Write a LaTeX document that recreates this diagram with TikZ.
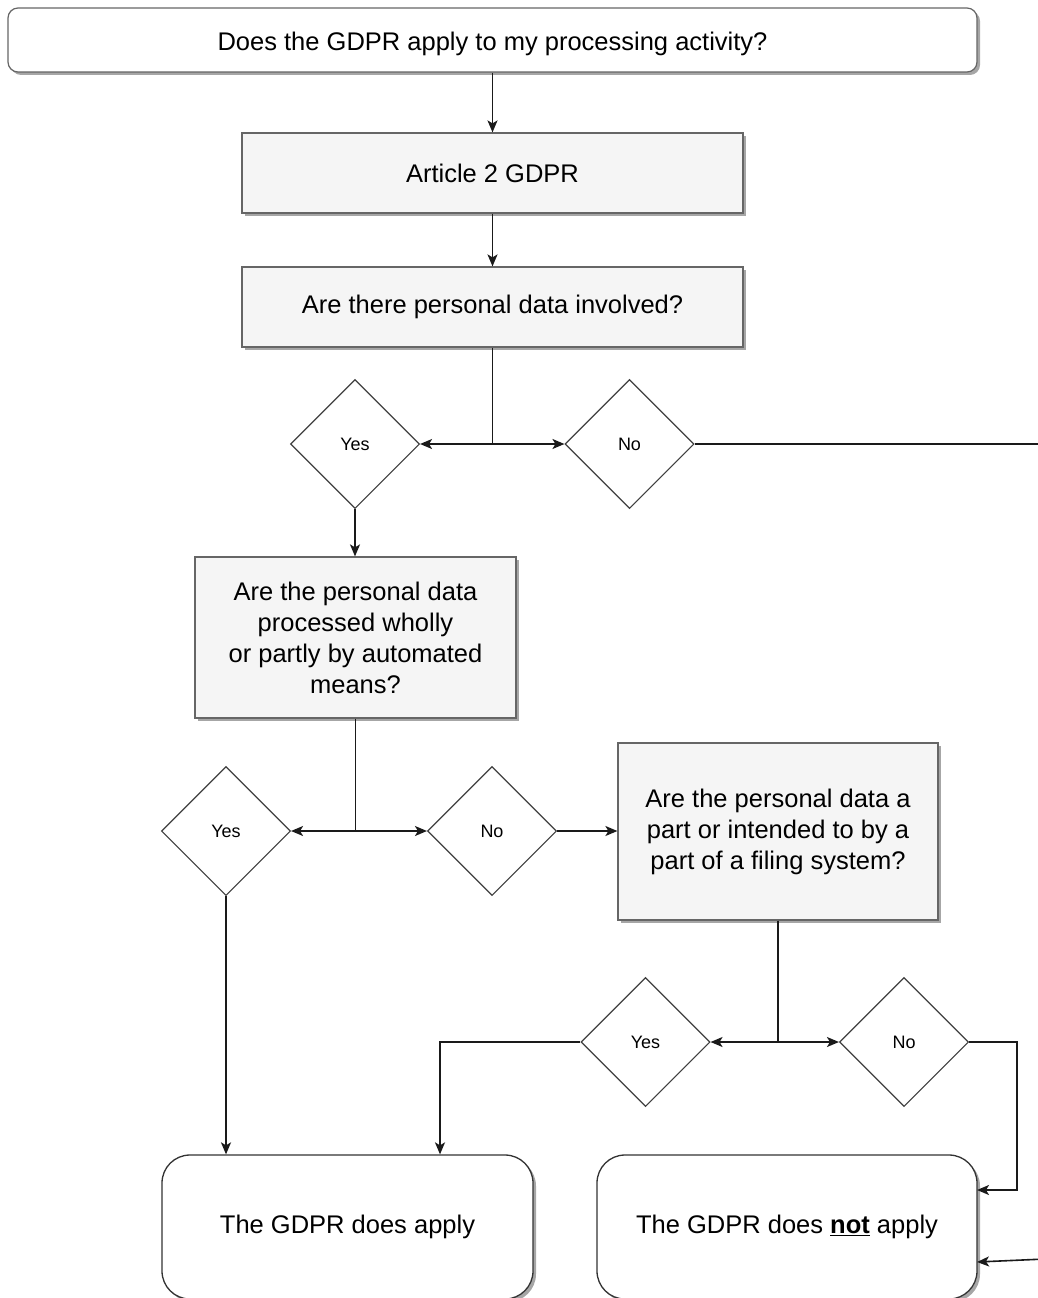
\documentclass[tikz,border=0pt]{standalone}
\usepackage{fontspec}
\setmainfont{Liberation Sans}
\usetikzlibrary{shapes.geometric,shadows,arrows.meta}

\definecolor{boxfill}{HTML}{F5F5F5}
\definecolor{boxline}{HTML}{666666}
\definecolor{wire}{HTML}{1A1A1A}

\tikzset{
  shade3/.style={drop shadow={shadow xshift=3pt,shadow yshift=-3pt,fill=black,opacity=0.35}},
  wiring/.style={draw=wire,line width=1.6pt},
  arr/.style={wiring,-{Stealth[length=12pt,width=10pt,inset=3pt]}},
  bigtext/.style={font=\fontsize{25.5}{31}\selectfont},
  topbox/.style={bigtext,draw=boxline,fill=white,line width=1.2pt,rounded corners=10pt,
    shade3,inner sep=0pt,align=center},
  qbox/.style={bigtext,draw=boxline,fill=boxfill,line width=1.2pt,shade3,
    inner sep=0pt,align=center},
  endbox/.style={bigtext,draw=black!80,fill=white,line width=1.3pt,rounded corners=28pt,
    shade3,inner sep=0pt,align=center},
  answer/.style={diamond,aspect=1,draw=black!75,fill=white,line width=1.1pt,
    minimum width=129pt,minimum height=129pt,inner sep=0pt,
    font=\fontsize{18}{22}\selectfont}
}

\begin{document}
\begin{tikzpicture}[x=1pt,y=-1pt]
\useasboundingbox (0,0) rectangle (1038,1298);
\fill[white] (0,0) rectangle (1038,1298);
\clip (0,0) rectangle (1038,1298);

% question boxes
\node[topbox,minimum width=969pt,minimum height=64pt,text height=22pt,text depth=1pt] (q0) at (492.5,40)
  {Does the GDPR apply to my processing activity?};
\node[qbox,minimum width=501pt,minimum height=80pt] (art) at (492.5,173) {Article 2 GDPR};
\node[qbox,minimum width=501pt,minimum height=80pt] (pers) at (492.5,307)
  {Are there personal data involved?};
\node[qbox,minimum width=321pt,minimum height=161pt] (auto) at (355.5,637.5)
  {Are the personal data\\processed wholly\\or partly by automated\\means?};
\node[qbox,minimum width=320pt,minimum height=177pt] (filing) at (778,831.5)
  {Are the personal data a\\part or intended to by a\\part of a filing system?};

% answers
\node[answer] (y1) at (355,444) {Yes};
\node[answer] (n1) at (629.5,444) {No};
\node[answer] (y2) at (226,831) {Yes};
\node[answer] (n2) at (492,831) {No};
\node[answer] (y3) at (645.5,1042) {Yes};
\node[answer] (n3) at (904,1042) {No};

% outcomes
\node[endbox,minimum width=371pt,minimum height=144pt] (apply) at (347.5,1227)
  {The GDPR does apply};
\node[endbox,minimum width=380pt,minimum height=144pt] (notapply) at (787,1227)
  {The GDPR does \underline{\textbf{not}} apply};

% junction points and bends
\coordinate (j1) at (pers.south |- y1.east);
\coordinate (j2) at (auto.south |- y2.east);
\coordinate (j3) at (filing.south |- y3.east);
\coordinate (c3) at (440,1042);
\coordinate (c4) at (1017,1042);
\coordinate (c5) at (1017,1190);
\coordinate (na1) at (977,1190);
\coordinate (na2) at (977,1262);
\coordinate (edgeA) at (1045,444);
\coordinate (edgeB) at (1045,1259);

% connectors
\draw[arr] (q0.south) -- (art.north);
\draw[arr] (art.south) -- (pers.north);
\draw[wiring] (pers.south) -- (j1);
\draw[arr] (j1) -- (y1.east);
\draw[arr] (j1) -- (n1.west);
\draw[wiring] (n1.east) -- (edgeA);
\draw[arr] (y1.south) -- (y1.south |- auto.north);
\draw[wiring] (auto.south) -- (j2);
\draw[arr] (j2) -- (y2.east);
\draw[arr] (j2) -- (n2.west);
\draw[arr] (n2.east) -- (n2.east -| filing.west);
\draw[arr] (y2.south) -- (y2.south |- apply.north);
\draw[wiring] (filing.south) -- (j3);
\draw[arr] (j3) -- (y3.east);
\draw[arr] (j3) -- (n3.west);
\draw[arr] (y3.west) -- (c3) -- (c3 |- apply.north);
\draw[arr] (n3.east) -- (c4) -- (c5) -- (na1);
\draw[arr] (edgeB) -- (na2);
\end{tikzpicture}
\end{document}
